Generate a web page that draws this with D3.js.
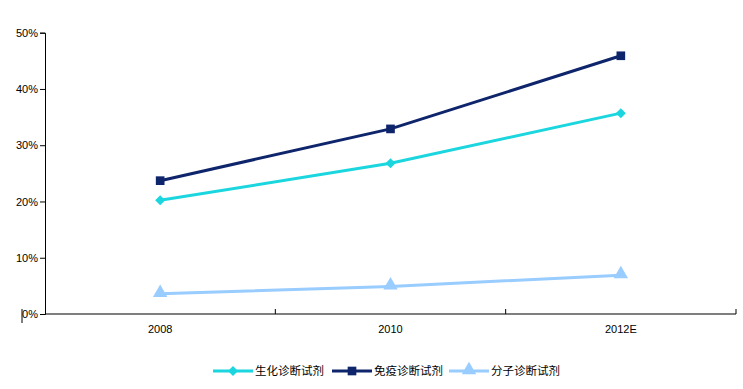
<!DOCTYPE html>
<html>
<head>
<meta charset="utf-8">
<script src="https://cdn.jsdelivr.net/npm/d3@7/dist/d3.min.js"></script>
<style>
body { margin: 0; background: #fff; }
text { font-family: "Liberation Sans", Arial, sans-serif; font-size: 11px; fill: #000; }
.lg { font-family: "Noto Sans CJK SC", sans-serif; font-size: 11.5px; }
</style>
</head>
<body>
<svg id="chart" width="743" height="389"></svg>
<script>
// categories and series values (share, %)
var years = ["2008", "2010", "2012E"];
var names = ["生化诊断试剂", "免疫诊断试剂", "分子诊断试剂"];
var shengHua = [20.2, 26.8, 35.7];
var mianYi = [23.7, 32.9, 45.9];
var fenZi = [3.6, 4.9, 6.9];
var yTicks = [0, 10, 20, 30, 40, 50];

var colors = ["#1BD6DE", "#0E256C", "#99CCFF"];
var shapes = [d3.symbolSquare, d3.symbolSquare, d3.symbolTriangle];
var sizes = [50, 75, 90];
var rot = [45, 0, 0];
var series = [shengHua, mianYi, fenZi];

var svg = d3.select("#chart");
var x = d3.scaleBand().domain(years).range([45, 736]);
var y = d3.scaleLinear().domain([0, 50]).range([314, 32.7]);

// y axis
var yAxis = d3.axisLeft(y).tickValues(yTicks).tickFormat(d => d + "%").tickSize(5).tickPadding(2);
var gy = svg.append("g").attr("transform", "translate(45,0)").call(yAxis);
gy.select(".domain").attr("stroke", "#000");
gy.selectAll(".tick line").attr("stroke", "#000");
gy.selectAll(".tick text").style("font-family", "Liberation Sans, Arial").style("font-size", "11px").attr("fill", "#000");

// little mark left of 0%
svg.append("line").attr("x1", 22).attr("x2", 22).attr("y1", 309).attr("y2", 323).attr("stroke", "#000").attr("stroke-width", 1);

// x axis
var gx = svg.append("g").attr("transform", "translate(0,314)");
gx.append("line").attr("x1", 45).attr("x2", 736).attr("stroke", "#000").attr("stroke-width", 1.2);
var bounds = years.map(d => x(d)).concat([x.range()[1]]);
gx.selectAll("line.tk").data(bounds.slice(1)).join("line").attr("class", "tk")
  .attr("x1", d => d).attr("x2", d => d).attr("y1", 0).attr("y2", -5).attr("stroke", "#000");
gx.selectAll("text").data(years).join("text")
  .attr("x", d => x(d) + x.bandwidth() / 2).attr("y", 19)
  .attr("text-anchor", "middle").text(d => d);

var line = d3.line().x((d, i) => x(years[i]) + x.bandwidth() / 2).y(d => y(d));

// draw lower series first so the dark series sits on top
[2, 0, 1].forEach(function (k) {
  svg.append("path").datum(series[k]).attr("d", line)
    .attr("fill", "none").attr("stroke", colors[k]).attr("stroke-width", 3);
  svg.selectAll(null).data(series[k]).join("path")
    .attr("transform", (d, i) => "translate(" + (x(years[i]) + x.bandwidth() / 2) + "," + (y(d) - (k == 2 ? 1 : 0)) + ") rotate(" + rot[k] + ")")
    .attr("d", d3.symbol().type(shapes[k]).size(sizes[k]))
    .attr("fill", colors[k]);
});

// legend
var lgX = [213, 332, 449];
var lg = svg.append("g").attr("transform", "translate(0,371)");
names.forEach(function (n, k) {
  lg.append("line").attr("x1", lgX[k]).attr("x2", lgX[k] + 40).attr("stroke", colors[k]).attr("stroke-width", 3);
  lg.append("path").attr("transform", "translate(" + (lgX[k] + 20) + "," + (k == 2 ? -1 : 0) + ") rotate(" + rot[k] + ")")
    .attr("d", d3.symbol().type(shapes[k]).size(sizes[k])).attr("fill", colors[k]);
  lg.append("text").attr("class", "lg").attr("x", lgX[k] + 42).attr("y", 4).text(n);
});
</script>
</body>
</html>
